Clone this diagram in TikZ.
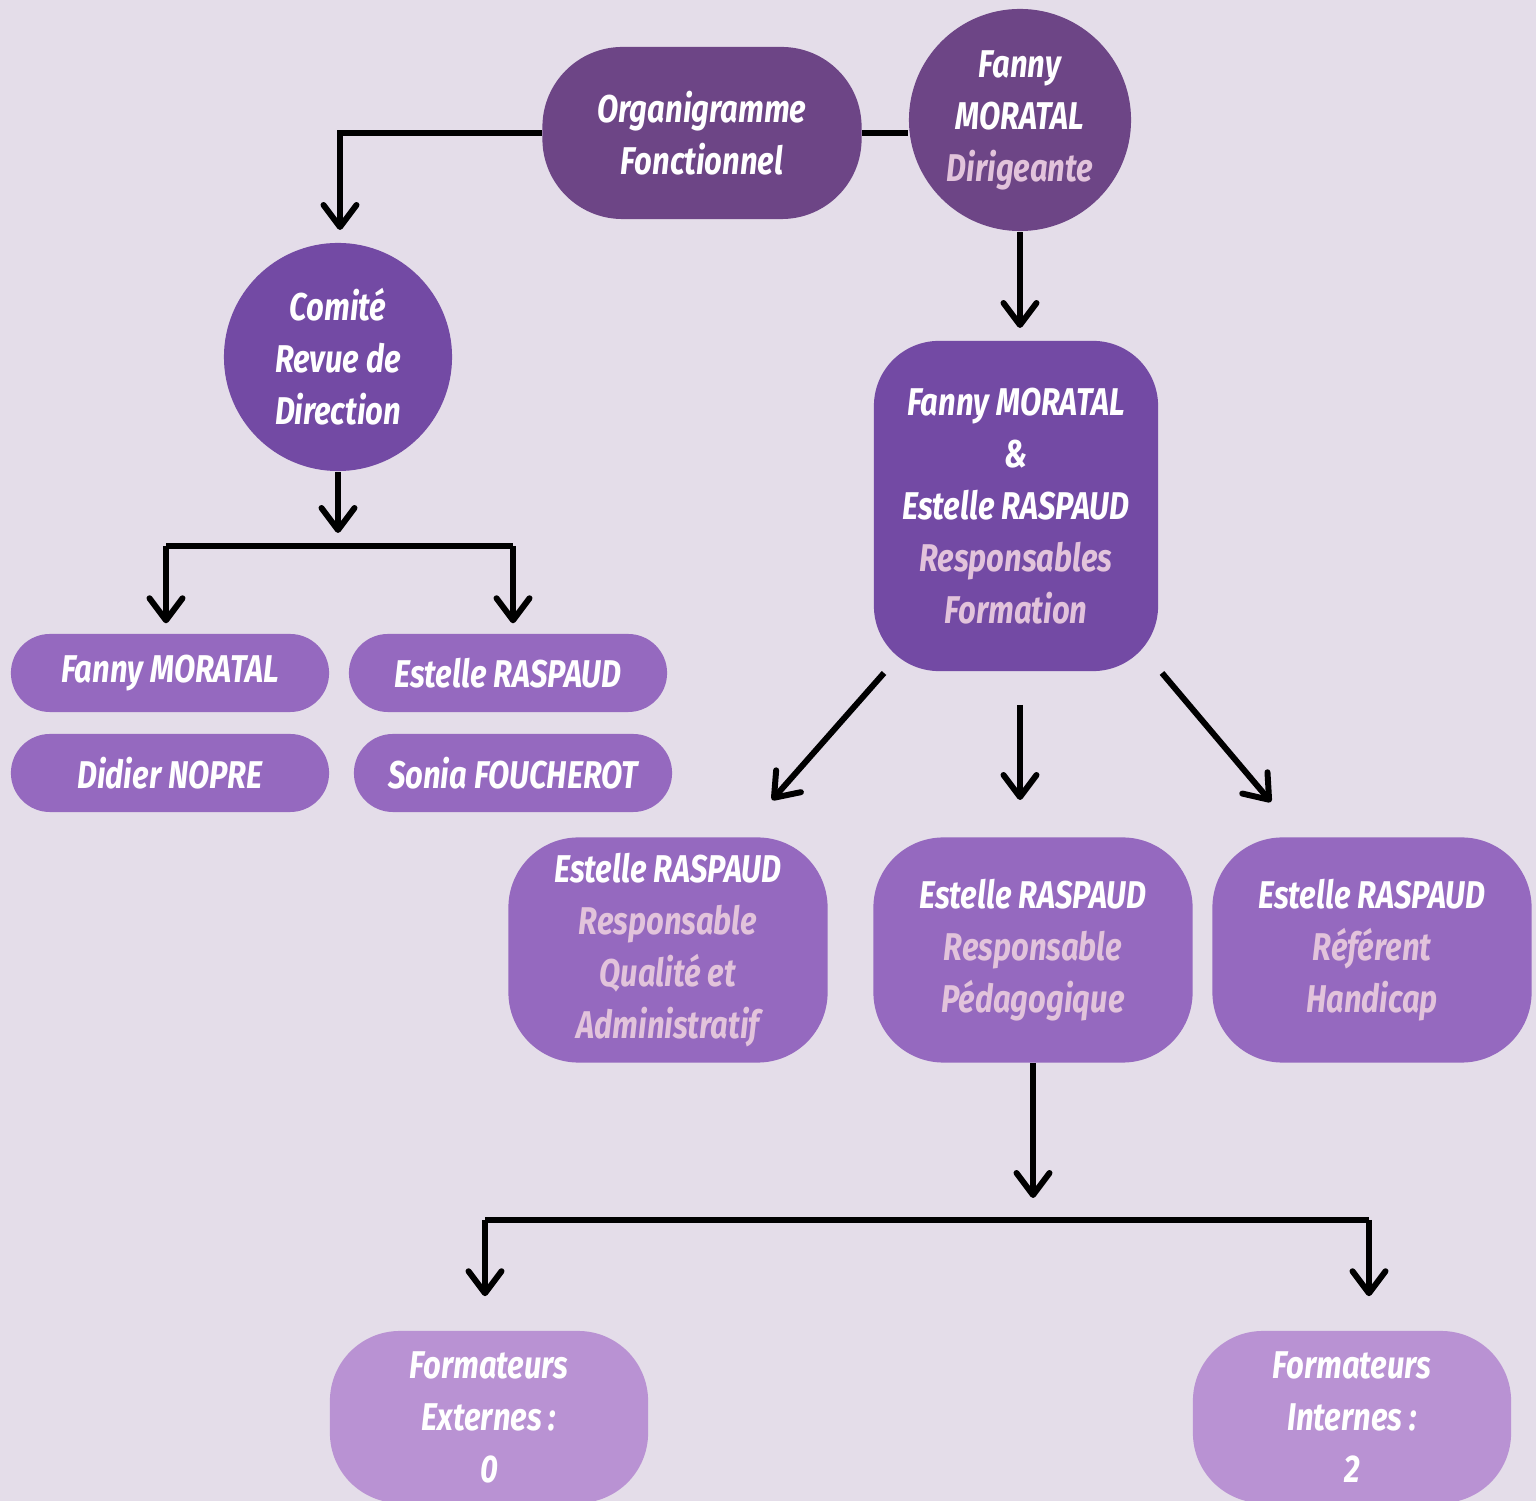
\documentclass[tikz,border=0pt]{standalone}
\usepackage{fontspec}
\setmainfont{Fira Sans}[FakeStretch=0.8]
\usetikzlibrary{arrows.meta}
\definecolor{bgpage}{HTML}{E4DDE9}
\definecolor{plumdark}{HTML}{6D4586}
\definecolor{plummid}{HTML}{734AA4}
\definecolor{plumsoft}{HTML}{9569BF}
\definecolor{plumpale}{HTML}{B992D3}
\definecolor{roletext}{HTML}{E2C3DB}
\newcommand{\roleline}[1]{\textcolor{roletext}{#1}}
\tikzset{
  label font/.style={font=\bfseries\itshape\fontsize{11}{14.8}\selectfont},
  card/.style={rectangle, fill=#1, text=white, align=center, inner sep=0pt, label font},
  ring/.style={circle, fill=#1, text=white, align=center, inner sep=0pt, label font},
  pill/.style={card=plumsoft, minimum width=3.18cm, minimum height=0.78cm, rounded corners=0.39cm},
  link/.style={line width=1.7pt, -{Straight Barb[length=2.2mm, width=3.3mm, round]}},
  bar/.style={line width=1.7pt}
}
\begin{document}
\begin{tikzpicture}[x=0.01cm, y=-0.01cm]
  \fill[bgpage] (0,0) rectangle (1536,1501);
  \useasboundingbox (0,0) rectangle (1536,1501);
  % top row
  \node[card=plumdark, minimum width=3.19cm, minimum height=1.72cm, rounded corners=0.8cm] (orga) at (702,133) {Organigramme\\Fonctionnel};
  \node[ring=plumdark, minimum size=2.22cm] (dir) at (1020,120) {Fanny\\MORATAL\\\roleline{Dirigeante}};
  % comité side
  \node[ring=plummid, minimum size=2.28cm] (comite) at (338,357) {Comité\\Revue de\\Direction};
  \node[pill] (fanny) at (170,673) {Fanny MORATAL};
  \node[pill] (estelle) at (508,673) {Estelle RASPAUD};
  \node[pill] (didier) at (170,773) {Didier NOPRE};
  \node[pill] (sonia) at (513,773) {Sonia FOUCHEROT};
  % formation side
  \node[card=plummid, minimum width=2.84cm, minimum height=3.3cm, rounded corners=0.65cm] (formation) at (1016,506) {Fanny MORATAL\\\&\\Estelle RASPAUD\\\roleline{Responsables}\\\roleline{Formation}};
  \node[card=plumsoft, minimum width=3.19cm, minimum height=2.25cm, rounded corners=0.7cm] (qualite) at (668,950) {Estelle RASPAUD\\\roleline{Responsable}\\\roleline{Qualité et}\\\roleline{Administratif}};
  \node[card=plumsoft, minimum width=3.19cm, minimum height=2.25cm, rounded corners=0.7cm] (pedago) at (1033,950) {Estelle RASPAUD\\\roleline{Responsable}\\\roleline{Pédagogique}};
  \node[card=plumsoft, minimum width=3.19cm, minimum height=2.25cm, rounded corners=0.7cm] (handicap) at (1372,950) {Estelle RASPAUD\\\roleline{Référent}\\\roleline{Handicap}};
  \node[card=plumpale, minimum width=3.18cm, minimum height=1.72cm, rounded corners=0.7cm] (externes) at (489,1417) {Formateurs\\Externes :\\0};
  \node[card=plumpale, minimum width=3.18cm, minimum height=1.72cm, rounded corners=0.7cm] (internes) at (1352,1417) {Formateurs\\Internes :\\2};
  % free ends of the connectors
  \coordinate (comtip) at (340,230);
  \coordinate (dirtip) at (1020,328);
  \coordinate (comhub) at (338,533);
  \coordinate (cleft) at (166,546);
  \coordinate (cright) at (513,546);
  \coordinate (qstart) at (884,673);
  \coordinate (qtip) at (772,800);
  \coordinate (pstart) at (1020,705);
  \coordinate (ptip) at (1020,800);
  \coordinate (hstart) at (1162,673);
  \coordinate (htip) at (1271,802);
  \coordinate (pedhub) at (1033,1198);
  \coordinate (fleft) at (485,1220);
  \coordinate (fright) at (1369,1220);
  % connectors
  \draw[bar] (orga.east) -- (orga.east -| dir.west);
  \draw[link] (orga.west) -| (comtip);
  \draw[link] (dir.south) -- (dirtip);
  \draw[link] (comite.south) -- (comhub);
  \draw[bar] (cleft) -- (cright);
  \draw[link] (cleft) -- ([yshift=0.1cm]fanny.north -| cleft);
  \draw[link] (cright) -- ([yshift=0.1cm]estelle.north -| cright);
  \draw[link] (qstart) -- (qtip);
  \draw[link] (pstart) -- (ptip);
  \draw[link] (hstart) -- (htip);
  \draw[link] (pedago.south) -- (pedhub);
  \draw[bar] (fleft) -- (fright);
  \draw[link] (fleft) -- ([yshift=0.34cm]externes.north -| fleft);
  \draw[link] (fright) -- ([yshift=0.34cm]internes.north -| fright);
\end{tikzpicture}
\end{document}
